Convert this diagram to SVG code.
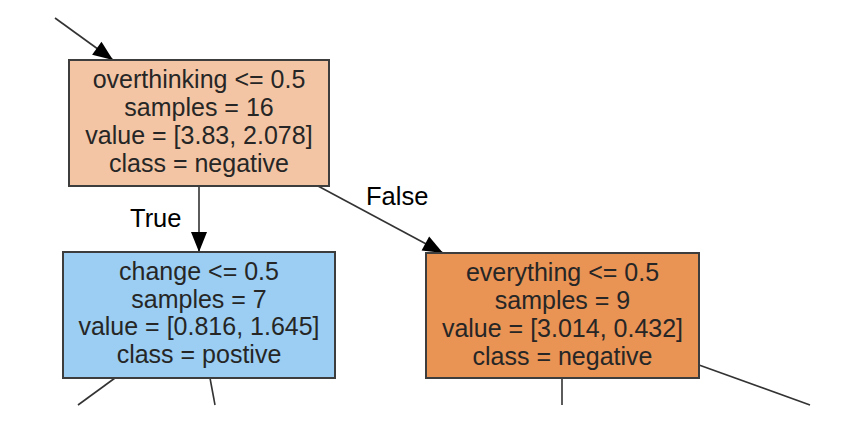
<svg xmlns="http://www.w3.org/2000/svg" width="850" height="444" viewBox="0 0 850 444">
<style>
.box{stroke:#3d3d3d;stroke-width:2}
.nt{font-family:"Liberation Sans",Arial,sans-serif;font-size:25px;fill:#262626;text-anchor:middle}
.el{font-family:"Liberation Sans",Arial,sans-serif;font-size:25.5px;fill:#000}
.edge{stroke:#333;stroke-width:1.6;fill:none}
</style>
<defs>
<marker id="arr" markerUnits="userSpaceOnUse" markerWidth="24" markerHeight="24" viewBox="0 0 24 24" refX="22" refY="12" orient="auto">
<path d="M2,4 L22,12 L2,20 Z" fill="#000"/>
</marker>
</defs>
<rect width="850" height="444" fill="#fff"/>
<g id="connectors">
<line class="edge" x1="55" y1="18" x2="113" y2="60" marker-end="url(#arr)"/>
<line class="edge" x1="199" y1="186" x2="199" y2="252" marker-end="url(#arr)"/>
<line class="edge" x1="318" y1="186" x2="443" y2="253" marker-end="url(#arr)"/>
<line class="edge" x1="115" y1="378" x2="78" y2="405"/>
<line class="edge" x1="210" y1="378" x2="215" y2="405"/>
<line class="edge" x1="562" y1="378" x2="562" y2="405"/>
<line class="edge" x1="699" y1="365" x2="810" y2="405"/>
<text class="el" x="130" y="227">True</text>
<text class="el" x="366" y="205">False</text>
</g>
<g id="node-root">
<rect class="box" x="69" y="60" width="260" height="126" fill="#f3c5a4"/>
<text class="nt" x="199" y="88">overthinking &lt;= 0.5</text>
<text class="nt" x="199" y="116">samples = 16</text>
<text class="nt" x="199" y="144">value = [3.83, 2.078]</text>
<text class="nt" x="199" y="172">class = negative</text>
</g>
<g id="node-left">
<rect class="box" x="63" y="252" width="272" height="126" fill="#9bcef2"/>
<text class="nt" x="199" y="280">change &lt;= 0.5</text>
<text class="nt" x="199" y="308">samples = 7</text>
<text class="nt" x="199" y="335">value = [0.816, 1.645]</text>
<text class="nt" x="199" y="363">class = postive</text>
</g>
<g id="node-right">
<rect class="box" x="426" y="253" width="273" height="125" fill="#e99355"/>
<text class="nt" x="562.5" y="281">everything &lt;= 0.5</text>
<text class="nt" x="562.5" y="309">samples = 9</text>
<text class="nt" x="562.5" y="337">value = [3.014, 0.432]</text>
<text class="nt" x="562.5" y="365">class = negative</text>
</g>
</svg>
